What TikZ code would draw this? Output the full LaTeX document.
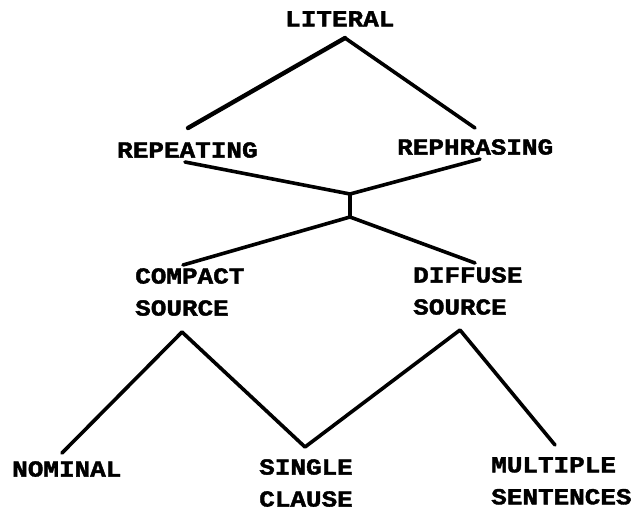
\documentclass[tikz,border=0pt]{standalone}
\usepackage{fontspec}
\newfontfamily\typew[BoldFeatures={FakeBold=1.6}]{Liberation Mono}
\begin{document}
\begin{tikzpicture}[x=1pt,y=1pt,
  lbl/.style={inner sep=0pt, font=\typew\bfseries\fontsize{23}{32}\selectfont, xscale=1.13, align=left},
  ln/.style={line width=3.6pt, line cap=round, line join=round}]
\useasboundingbox (0,0) rectangle (632,-515);
% text nodes
\node[lbl, anchor=north west] (lit) at (285,-11) {LITERAL};
\node[lbl, anchor=north west] (rep) at (117,-142) {REPEATING};
\node[lbl, anchor=north west] (reph) at (397,-139) {REPHRASING};
\node[lbl, anchor=north west] (cs) at (135,-268) {COMPACT\\SOURCE};
\node[lbl, anchor=north west] (ds) at (413,-267) {DIFFUSE\\SOURCE};
\node[lbl, anchor=north west] (nom) at (12,-461) {NOMINAL};
\node[lbl, anchor=north west] (sc) at (259,-459) {SINGLE\\CLAUSE};
\node[lbl, anchor=north west] (ms) at (491,-457) {MULTIPLE\\SENTENCES};
% connector points
\coordinate (litA) at (345,-38);
\coordinate (repT) at (188,-128);
\coordinate (rephT) at (475,-128);
\coordinate (repB) at (185,-162);
\coordinate (rephB) at (480,-159);
\coordinate (j1) at (350,-194);
\coordinate (j2) at (350,-217);
\coordinate (csT) at (183,-265);
\coordinate (dsT) at (475,-263);
\coordinate (csB) at (182,-332);
\coordinate (dsB) at (460,-330);
\coordinate (nomT) at (62,-453);
\coordinate (scT) at (305,-447);
\coordinate (msT) at (555,-445);
% connectors
\draw[ln, line width=4.4pt] (repT) -- (litA);
\draw[ln] (litA) -- (rephT);
\draw[ln] (repB) -- (j1) -- (rephB);
\draw[ln] (j1) -- (j2);
\draw[ln] (csT) -- (j2) -- (dsT);
\draw[ln] (nomT) -- (csB) -- (scT) -- (dsB) -- (msT);
\end{tikzpicture}
\end{document}
